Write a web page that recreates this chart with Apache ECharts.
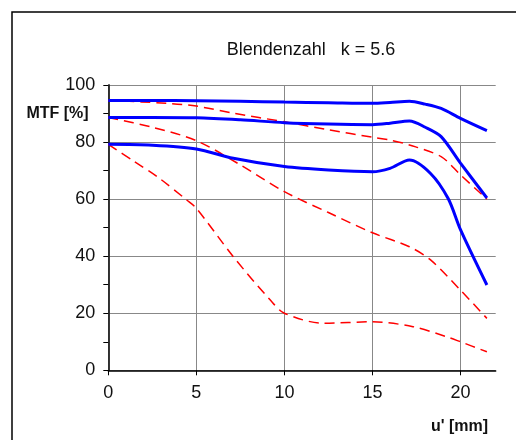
<!DOCTYPE html>
<html>
<head>
<meta charset="utf-8">
<script src="https://cdn.jsdelivr.net/npm/echarts@6/dist/echarts.min.js"></script>
<style>
  html, body { margin: 0; padding: 0; background: #fff; }
  #chart { width: 516px; height: 440px; }
</style>
</head>
<body>
<div id="chart"></div>
<script>
// MTF over image height u' at f-number 5.6
var xTicks = [0, 5, 10, 15, 20];

// solid blue curves (upper, middle, lower)
var blueHigh = [[0, 94.6], [2.5, 94.6], [5, 94.5], [7.5, 94.3], [10, 94.0], [12.5, 93.8], [15, 93.6], [16, 93.9], [17.1, 94.3], [18, 93.3], [18.9, 91.8], [20, 88.3], [21.5, 84.0]];
var blueMid = [[0, 88.6], [2.5, 88.6], [5, 88.5], [7.5, 87.8], [10, 86.8], [12.5, 86.3], [15, 86.1], [16, 86.6], [17.1, 87.4], [18, 85.2], [18.9, 81.9], [20, 72.6], [21.5, 60.4]];
var blueLow = [[0, 79.2], [2.5, 78.9], [5, 77.6], [7.1, 74.3], [10, 71.4], [12.5, 70.2], [15, 69.6], [16, 70.8], [17.1, 73.7], [18.3, 69.0], [19.3, 60.2], [20, 49.3], [21.5, 29.9]];

// dashed red curves (upper, middle, lower)
var redHigh = [[0, 94.6], [3.3, 93.6], [5, 92.6], [7.1, 90.1], [10, 87.1], [12.5, 84.3], [15, 81.7], [16, 80.7], [17.1, 79.0], [18.9, 74.9], [20, 68.5], [21.5, 60.0]];
var redMid = [[0, 88.6], [2.5, 85.2], [5, 80.5], [7.5, 72.0], [10, 62.6], [12.5, 55.3], [15, 48.2], [17.1, 43.3], [18.3, 38.7], [20, 28.1], [21.5, 18.2]];
var redLow = [[0, 79.2], [1.4, 73.5], [2.9, 67.3], [4.45, 59.7], [5, 56.8], [7.1, 39.8], [9.2, 24.6], [10, 20.0], [12.2, 16.5], [15, 17.0], [17.3, 15.3], [19.2, 11.8], [20, 10.0], [21.5, 6.5]];

var FONT = 'Liberation Sans, Arial, sans-serif';

function blue(data) {
  return {
    type: 'line', data: data, smooth: 0.3, symbol: 'none', z: 3,
    lineStyle: { color: '#0000ff', width: 3 }
  };
}
function red(data) {
  return {
    type: 'line', data: data, smooth: 0.3, symbol: 'none', z: 2,
    lineStyle: { color: '#ff0000', width: 1.5, type: [10, 6] }
  };
}

var chart = echarts.init(document.getElementById('chart'), null, { renderer: 'canvas' });
chart.setOption({
  animation: false,
  backgroundColor: '#ffffff',
  grid: { left: 108.3, right: 20.3, top: 85, bottom: 69.7, containLabel: false },
  xAxis: {
    type: 'value', min: 0, max: 22, interval: 5,
    axisLine: { show: true, onZero: false, lineStyle: { color: '#000', width: 1.5 } },
    axisTick: { show: true, inside: false, length: 5, customValues: xTicks, lineStyle: { color: '#000', width: 1 } },
    axisLabel: { customValues: xTicks, margin: 14, color: '#111', fontSize: 18, fontFamily: FONT },
    splitLine: { show: true, lineStyle: { color: '#888', width: 1 } }
  },
  yAxis: [{
    type: 'value', min: 0, max: 100, interval: 20,
    axisLine: { show: true, onZero: false, lineStyle: { color: '#000', width: 1.5 } },
    axisTick: { show: true, inside: false, length: 5, lineStyle: { color: '#000', width: 1 } },
    minorTick: { show: true, splitNumber: 2, length: 5, lineStyle: { color: '#000', width: 1 } },
    axisLabel: { margin: 13, color: '#111', fontSize: 18, fontFamily: FONT },
    splitLine: { show: true, lineStyle: { color: '#888', width: 1 } }
  }, {
    type: 'value', min: 0, max: 100, position: 'right',
    axisLine: { show: true, lineStyle: { color: '#333', width: 1.5 } },
    axisTick: { show: false }, axisLabel: { show: false }, splitLine: { show: false }
  }],
  graphic: [
    { type: 'rect', shape: { x: 12, y: 12, width: 600, height: 600 }, style: { fill: 'none', stroke: '#000', lineWidth: 1.5 }, silent: true },
    { type: 'text', x: 311, y: 50, style: { text: 'Blendenzahl   k = 5.6', fontSize: 18, fontFamily: FONT, fill: '#111', align: 'center', verticalAlign: 'middle' } },
    { type: 'text', x: 57.5, y: 113.5, style: { text: 'MTF [%]', fontSize: 16, fontWeight: 'bold', fontFamily: FONT, fill: '#111', align: 'center', verticalAlign: 'middle' } },
    { type: 'text', x: 459.5, y: 427, style: { text: "u' [mm]", fontSize: 16, fontWeight: 'bold', fontFamily: FONT, fill: '#111', align: 'center', verticalAlign: 'middle' } }
  ],
  series: [red(redHigh), red(redMid), red(redLow), blue(blueHigh), blue(blueMid), blue(blueLow)]
});
</script>
</body>
</html>
